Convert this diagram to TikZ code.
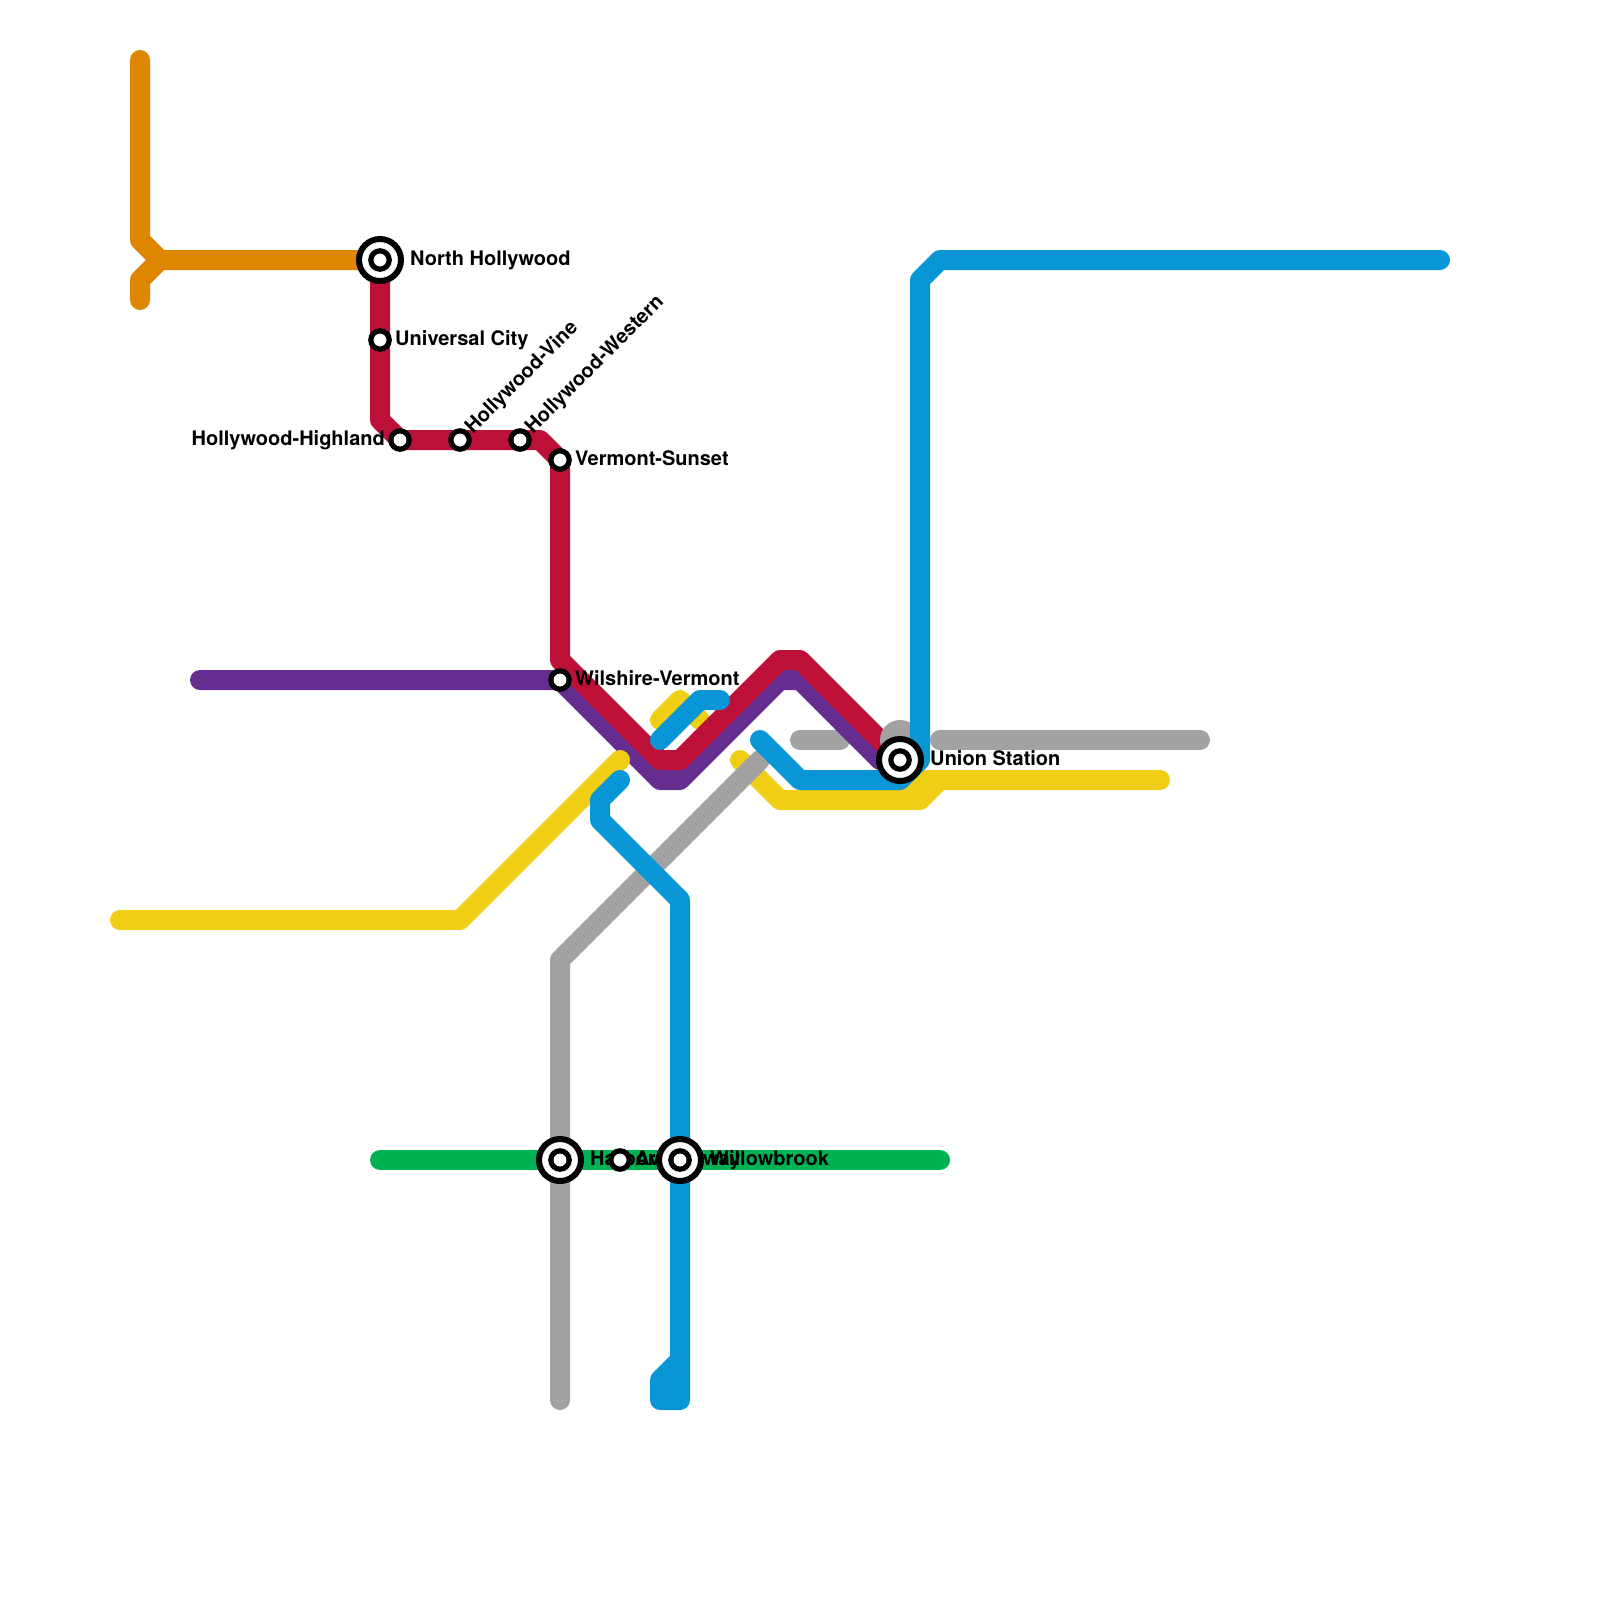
\documentclass[tikz,border=0pt]{standalone}
\usepackage{fontspec}
\setmainfont{TeX Gyre Heros}
\definecolor{lorange}{HTML}{DF8600}
\definecolor{lred}{HTML}{BD1038}
\definecolor{lpurple}{HTML}{662D91}
\definecolor{lyellow}{HTML}{F0CE15}
\definecolor{lblue}{HTML}{0896D7}
\definecolor{lgray}{HTML}{A2A2A2}
\definecolor{lgreen}{HTML}{00B251}
\tikzset{
  metro/.style={line width=20pt,line cap=round,line join=round},
  stnsmall/.style={circle,draw=black,fill=white,line width=5.2pt,minimum size=18.4pt,inner sep=0pt,outer sep=0pt},
  stnbig/.style={circle,draw=black,fill=white,line width=6pt,minimum size=42pt,inner sep=0pt,outer sep=0pt},
  lbl/.style={inner sep=0pt,font=\fontsize{20}{24}\selectfont\bfseries,text=black},
  lblr/.style={lbl,anchor=base west},
  lbll/.style={lbl,anchor=base east},
  lbld/.style={lbl,anchor=base west,rotate=45},
}
\begin{document}
\begin{tikzpicture}[x=1pt,y=-1pt]
\useasboundingbox (0,0) rectangle (1600,1600);
% station positions
\coordinate (nh) at (380,260);
\coordinate (uc) at (380,340);
\coordinate (hh) at (400,440);
\coordinate (hv) at (460,440);
\coordinate (hw) at (520,440);
\coordinate (vs) at (560,460);
\coordinate (wv) at (560,680);
\coordinate (us) at (900,760);
\coordinate (hf) at (560,1160);
\coordinate (av) at (620,1160);
\coordinate (wb) at (680,1160);
% yellow under the others
\draw[metro,lyellow] (660,720) -- (680,700) -- (700,720);
\draw[metro,lyellow] (740,760) -- (780,800) -- (920,800) -- (940,780) -- (1160,780);
\draw[metro,lyellow] (900,800) -- (920,780) -- (940,780);
% gray
\draw[metro,lgray] (560,1400) -- (560,960) -- (760,760);
\draw[metro,lgray] (800,740) -- (840,740);
\draw[metro,lgray] (940,740) -- (1200,740);
% orange
\draw[metro,lorange] (140,60) -- (140,240) -- (160,260) -- (nh);
\draw[metro,lorange] (140,300) -- (140,280) -- (160,260);
% purple
\draw[metro,lpurple] (200,680) -- (wv) -- (660,780) -- (680,780) -- (780,680) -- (800,680) -- (880,760);
% red
\draw[metro,lred] (nh) -- (uc) -- (380,420) -- (hh) -- (hv) -- (hw) -- (540,440) -- (vs) -- (560,660) -- (660,760) -- (680,760) -- (780,660) -- (800,660) -- (us);
\fill[lgray] (900,740) circle[radius=20pt];
% yellow west branch, over purple
\draw[metro,lyellow] (120,920) -- (460,920) -- (620,760);
% green
\draw[metro,lgreen] (380,1160) -- (hf) -- (av) -- (wb) -- (940,1160);
% blue
\draw[metro,lblue] (1440,260) -- (940,260) -- (920,280) -- (920,760) -- (900,780) -- (800,780) -- (760,740);
\draw[metro,lblue] (660,740) -- (700,700) -- (720,700);
\draw[metro,lblue] (620,780) -- (600,800) -- (600,820) -- (680,900) -- (680,1400) -- (660,1400) -- (660,1380) -- (680,1360);
% labels
\node[lblr] (nhL) at (410,265) {North Hollywood};
\node[lblr] (ucL) at (395,345) {Universal City};
\node[lbll] (hhL) at (385,445) {Hollywood-Highland};
\node[lbld] (hvL) at (473,434.5) {Hollywood-Vine};
\node[lbld] (hwL) at (533,434.5) {Hollywood-Western};
\node[lblr] (vsL) at (575,465) {Vermont-Sunset};
\node[lblr] (wvL) at (575,685) {Wilshire-Vermont};
\node[lblr] (usL) at (930,765) {Union Station};
\node[lblr] (hfL) at (590,1165) {Harbor Freeway};
\node[lblr] (avL) at (635,1165) {Avalon};
\node[lblr] (wbL) at (710,1165) {Willowbrook};
% stations
\node[stnbig] (nhA) at (nh) {}; \node[stnsmall] (nhB) at (nh) {};
\node[stnsmall] (ucA) at (uc) {};
\node[stnsmall] (hhA) at (hh) {};
\node[stnsmall] (hvA) at (hv) {};
\node[stnsmall] (hwA) at (hw) {};
\node[stnsmall] (vsA) at (vs) {};
\node[stnsmall] (wvA) at (wv) {};
\node[stnbig] (usA) at (us) {}; \node[stnsmall] (usB) at (us) {};
\node[stnbig] (hfA) at (hf) {}; \node[stnsmall] (hfB) at (hf) {};
\node[stnsmall] (avA) at (av) {};
\node[stnbig] (wbA) at (wb) {}; \node[stnsmall] (wbB) at (wb) {};
\end{tikzpicture}
\end{document}
